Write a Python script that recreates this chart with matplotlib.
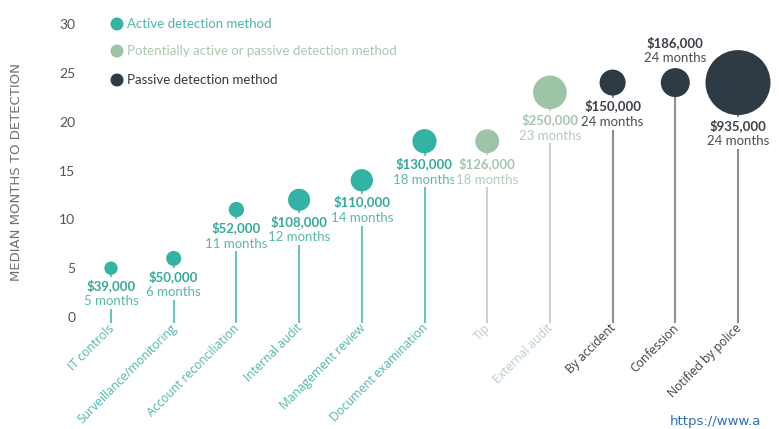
import matplotlib
matplotlib.use("Agg")
import matplotlib.pyplot as plt
import numpy as np

# ---- data -------------------------------------------------------------
methods = ["IT controls", "Surveillance/monitoring", "Account reconciliation",
           "Internal audit", "Management review", "Document examination",
           "Tip", "External audit", "By accident", "Confession",
           "Notified by police"]
median_months = [5, 6, 11, 12, 14, 18, 18, 23, 24, 24, 24]
median_loss = [39000, 50000, 52000, 108000, 110000, 130000,
               126000, 250000, 150000, 186000, 935000]
method_type = ["active", "active", "active", "active", "active", "active",
               "potential", "potential", "passive", "passive", "passive"]
type_names = {"active": "Active detection method",
              "potential": "Potentially active or passive detection method",
              "passive": "Passive detection method"}
y_ticks = [0, 5, 10, 15, 20, 25, 30]

# ---- styling ----------------------------------------------------------
bubble_col = {"active": "#33b3a3", "potential": "#9dc4a6", "passive": "#2e3a44"}
stem_col = {"active": "#6cc3b7", "potential": "#c9d2cc", "passive": "#8c8f93"}
money_col = {"active": "#35a999", "potential": "#a6c6ae", "passive": "#3a4047"}
month_col = {"active": "#5ab8ab", "potential": "#b0cdb7", "passive": "#4a4f55"}
cat_col = {"active": "#4cb8aa", "potential": "#b9cfc0", "passive": "#3a3f45"}
legend_col = {"active": "#4cb8aa", "potential": "#a9c8b1", "passive": "#2e3a44"}
label_above = [False] * 9 + [True, False]

W, H = 779, 429
fig = plt.figure(figsize=(W / 100, H / 100), dpi=100)
left_px = 85
ax = fig.add_axes([left_px / W, 0, 1 - left_px / W, 1])

px_per_month = 293 / 30.0
zero_px = 317
ax.set_ylim((zero_px - H) / px_per_month, zero_px / px_per_month)
x0_px, dx_px = 111, 62.7
ax.set_xlim((left_px - x0_px) / dx_px, (W - x0_px) / dx_px)

for s in ax.spines.values():
    s.set_visible(False)
ax.set_xticks([])
ax.set_yticks(y_ticks)
ax.set_yticklabels([str(t) for t in y_ticks], fontfamily="Lato",
                   fontsize=10, color="#555555")
ax.tick_params(axis="y", length=0, pad=7)

fig.text(17 / W, 1 - 172 / H, "MEDIAN MONTHS TO DETECTION", rotation=90,
         ha="center", va="center", fontsize=9.5, color="#707070",
         fontfamily="DejaVu Sans")

stem_bottom = -0.6
xs = np.arange(len(methods))
diam_px = [2.126 * np.sqrt(v / 1000.0) for v in median_loss]

for i, (m, v, loss, t) in enumerate(zip(methods, median_months,
                                          median_loss, method_type)):
    ax.vlines(xs[i], stem_bottom, v, color=stem_col[t], lw=1.5, zorder=1)
    d_pt = diam_px[i] * 0.72
    ax.scatter([xs[i]], [v], s=d_pt ** 2, color=bubble_col[t],
               edgecolors="none", zorder=3)
    r_pt = d_pt / 2
    money = f"${loss:,.0f}"
    months = f"{v} months"
    if label_above[i]:
        off_money, off_month = r_pt + 18, r_pt + 7
    else:
        off_money, off_month = -(r_pt + 7.5), -(r_pt + 19)
    box = dict(fc="white", ec="none", pad=1.2)
    ax.annotate(money, (xs[i], v), xytext=(0, off_money),
                textcoords="offset points", ha="center", va="center",
                fontsize=9.5, fontweight="bold", fontfamily="Lato",
                color=money_col[t], bbox=box, zorder=4)
    ax.annotate(months, (xs[i], v), xytext=(0, off_month),
                textcoords="offset points", ha="center", va="center",
                fontsize=9.5, fontfamily="Lato", color=month_col[t],
                bbox=box, zorder=4)
    ax.text(xs[i] + 0.02, stem_bottom - 0.35, m, rotation=45,
            rotation_mode="anchor", ha="right", va="center", fontsize=8.7,
            fontfamily="Open Sans", color=cat_col[t])

# legend
for t, ypx in zip(["active", "potential", "passive"], [24, 51, 80]):
    ax.scatter([117 / W], [1 - ypx / H], s=(13 * 0.72) ** 2,
               color=bubble_col[t], edgecolors="none",
               transform=fig.transFigure, clip_on=False, zorder=5)
    fig.text(127 / W, 1 - ypx / H, type_names[t], ha="left", va="center",
             fontsize=9.5, fontfamily="Lato", color=legend_col[t])

fig.text(670 / W, 1 - 422 / H, "https://www.a", ha="left", va="center",
         fontsize=9.5, color="#2a6ebb", fontfamily="DejaVu Sans")

fig.savefig("out.png", dpi=100)
